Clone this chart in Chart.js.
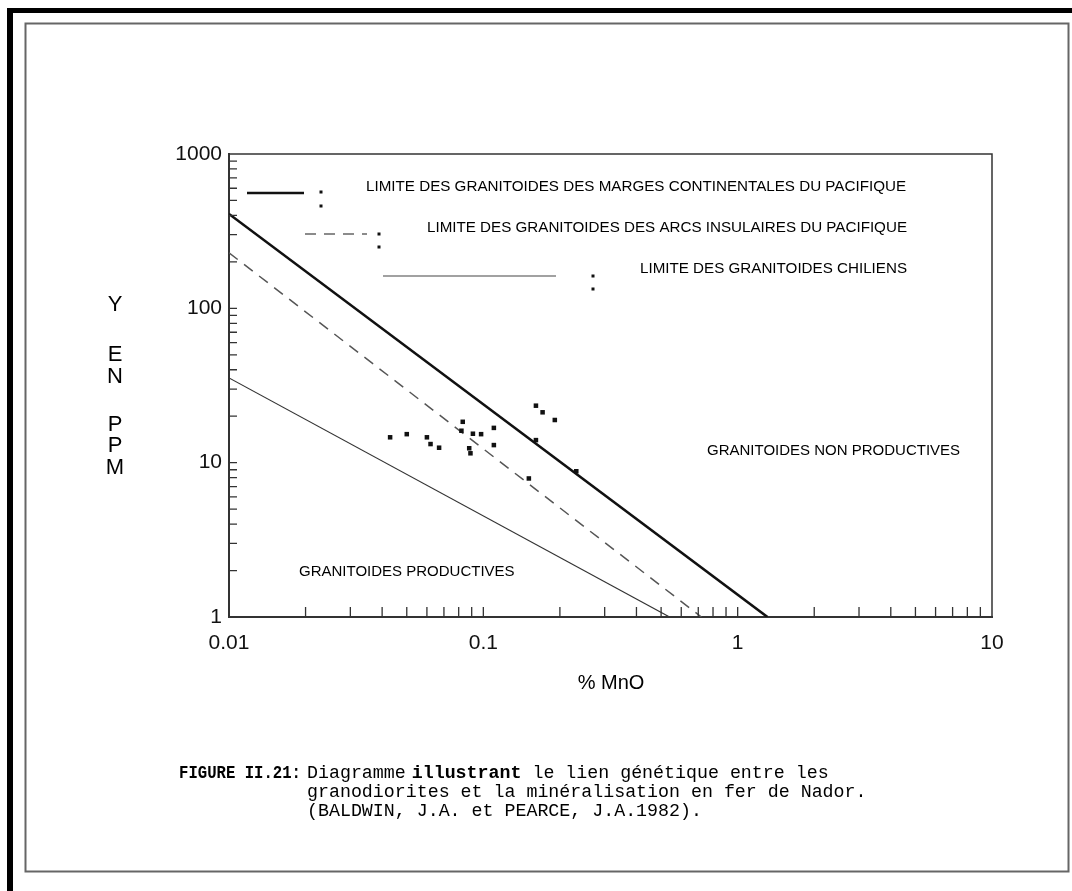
<!DOCTYPE html>
<html>
<head>
<meta charset="utf-8">
<script src="https://cdn.jsdelivr.net/npm/chart.js@4/dist/chart.umd.min.js"></script>
<style>
  html, body { margin: 0; padding: 0; background: #fff; }
  canvas { display: block; }
</style>
</head>
<body>
<canvas id="myChart" width="1072" height="891"></canvas>
<script>
// echantillons : % MnO et Y en ppm
var mnO  = [0.043, 0.050, 0.060, 0.062, 0.067, 0.083, 0.082, 0.091, 0.098, 0.088, 0.089, 0.110, 0.110, 0.161, 0.171, 0.191, 0.161, 0.151, 0.232];
var yPpm = [14.6, 15.3, 14.6, 13.2, 12.5, 18.4, 16.1, 15.4, 15.3, 12.4, 11.5, 16.8, 13.0, 23.4, 21.2, 18.9, 14.0, 7.9, 8.8];

// limites (droites log-log)
var contX  = [0.01, 1.31];  var contY  = [409, 1];    // marges continentales
var arcsX  = [0.01, 0.72];  var arcsY  = [229, 1];    // arcs insulaires
var chiliX = [0.01, 0.54];  var chiliY = [35.4, 1];   // chiliens

var xTicks = [0.01, 0.1, 1, 10];
var yTicks = [1, 10, 100, 1000];

var legendLabels = [
  "LIMITE DES GRANITOIDES DES MARGES CONTINENTALES DU PACIFIQUE",
  "LIMITE DES GRANITOIDES DES ARCS INSULAIRES DU PACIFIQUE",
  "LIMITE DES GRANITOIDES CHILIENS"
];

function pts(xs, ys) {
  var out = [];
  for (var i = 0; i < xs.length; i++) out.push({ x: xs[i], y: ys[i] });
  return out;
}

var SANS = '"Liberation Sans", Arial, Helvetica, sans-serif';
var MONO = '"Liberation Mono", "Courier New", monospace';

var decorPlugin = {
  id: 'decor',
  beforeDraw: function (chart) {
    var c = chart.ctx;
    c.save();
    c.fillStyle = '#ffffff';
    c.fillRect(0, 0, chart.width, chart.height);
    // cadre de la page scannee
    c.fillStyle = '#000';
    c.fillRect(7, 8, 1065, 5);
    c.fillRect(7, 8, 6, 883);
    c.strokeStyle = '#666';
    c.lineWidth = 2;
    c.strokeRect(25.5, 23.5, 1043, 848);
    c.restore();
  },
  afterDraw: function (chart) {
    var c = chart.ctx, a = chart.chartArea;
    var xs = chart.scales.x, ys = chart.scales.y;
    c.save();
    // top + right border of the plot box
    c.strokeStyle = '#333';
    c.lineWidth = 1.5;
    c.beginPath();
    c.moveTo(a.left, a.top); c.lineTo(a.right, a.top); c.lineTo(a.right, a.bottom);
    c.stroke();

    // inward ticks
    c.lineWidth = 1.3;
    c.beginPath();
    for (var i = 0; i < xTicks.length - 1; i++) {
      for (var k = 1; k <= 9; k++) {
        var px = xs.getPixelForValue(xTicks[i] * k);
        c.moveTo(px, a.bottom); c.lineTo(px, a.bottom - 10);
      }
    }
    for (var j = 0; j < yTicks.length - 1; j++) {
      for (var m = 1; m <= 9; m++) {
        var py = ys.getPixelForValue(yTicks[j] * m);
        c.moveTo(a.left, py); c.lineTo(a.left + 8, py);
      }
    }
    c.stroke();

    // legende dans le graphe
    c.strokeStyle = '#111';
    c.lineWidth = 2.5;
    c.beginPath(); c.moveTo(247, 193); c.lineTo(304, 193); c.stroke();
    c.strokeStyle = '#666';
    c.lineWidth = 1.5;
    c.setLineDash([11, 8]);
    c.beginPath(); c.moveTo(305, 234); c.lineTo(367, 234); c.stroke();
    c.setLineDash([]);
    c.strokeStyle = '#444';
    c.lineWidth = 1.2;
    c.beginPath(); c.moveTo(383, 276); c.lineTo(556, 276); c.stroke();

    c.fillStyle = '#111';
    [[321, 192], [321, 206], [379, 234], [379, 247], [593, 276], [593, 289]].forEach(function (d) {
      c.fillRect(d[0] - 1.5, d[1] - 1.5, 3, 3);
    });

    c.fillStyle = '#000';
    c.font = '15.2px ' + SANS;
    c.textBaseline = 'middle';
    c.textAlign = 'left';
    c.fillText(legendLabels[0], 366, 187, 541);
    c.fillText(legendLabels[1], 427, 228, 480);
    c.fillText(legendLabels[2], 640, 269, 267);

    c.font = '15px ' + SANS;
    c.fillText('GRANITOIDES NON PRODUCTIVES', 707, 451, 256);
    c.fillText('GRANITOIDES PRODUCTIVES', 299, 572, 216);

    // titres des axes
    c.font = '20px ' + SANS;
    c.textAlign = 'center';
    c.fillText('% MnO', 611, 683);
    c.font = '22px ' + SANS;
    [['Y', 305], ['E', 355], ['N', 377], ['P', 425], ['P', 446], ['M', 468]].forEach(function (l) {
      c.fillText(l[0], 115, l[1]);
    });

    // legende de la figure
    c.textAlign = 'left';
    c.textBaseline = 'alphabetic';
    c.font = 'bold 18px ' + MONO;
    c.fillText('FIGURE II.21:', 179, 778, 122);
    c.font = '18.3px ' + MONO;
    var x = 307;
    c.fillText('Diagramme', x, 778); x += c.measureText('Diagramme').width + 6;
    c.font = 'bold 18.3px ' + MONO;
    c.fillText('illustrant', x, 778); x += c.measureText('illustrant').width;
    c.font = '18.3px ' + MONO;
    c.fillText(' le lien génétique entre les', x, 778);
    c.fillText('granodiorites et la minéralisation en fer de Nador.', 307, 797);
    c.fillText('(BALDWIN, J.A. et PEARCE, J.A.1982).', 307, 816);
    c.restore();
  }
};

var ctx = document.getElementById('myChart');
var myChart = new Chart(ctx, {
  type: 'scatter',
  data: {
    datasets: [
      {
        label: 'echantillons',
        data: pts(mnO, yPpm),
        pointStyle: 'rect',
        pointRadius: 3.2,
        backgroundColor: '#111',
        borderWidth: 0
      },
      {
        type: 'line', label: legendLabels[0], data: pts(contX, contY),
        showLine: true, pointRadius: 0, borderColor: '#111', borderWidth: 2.6, fill: false
      },
      {
        type: 'line', label: legendLabels[1], data: pts(arcsX, arcsY),
        showLine: true, pointRadius: 0, borderColor: '#555', borderWidth: 1.5, borderDash: [11, 8], fill: false
      },
      {
        type: 'line', label: legendLabels[2], data: pts(chiliX, chiliY),
        showLine: true, pointRadius: 0, borderColor: '#333', borderWidth: 1.2, fill: false
      }
    ]
  },
  options: {
    responsive: false,
    animation: false,
    layout: { padding: { left: 0, top: 154, right: 80, bottom: 0 } },
    plugins: { legend: { display: false }, tooltip: { enabled: false } },
    scales: {
      x: {
        type: 'logarithmic',
        position: 'bottom',
        min: 0.01, max: 10,
        afterBuildTicks: function (s) { s.ticks = xTicks.map(function (v) { return { value: v }; }); },
        afterFit: function (s) { s.height = 274; },
        ticks: {
          autoSkip: false, maxRotation: 0, padding: 14, color: '#111',
          font: { family: SANS, size: 21 },
          callback: function (v) { return String(v); }
        },
        grid: { drawOnChartArea: false, drawTicks: false },
        border: { display: true, color: '#333', width: 2 }
      },
      y: {
        type: 'logarithmic',
        min: 1, max: 1000,
        afterBuildTicks: function (s) { s.ticks = yTicks.map(function (v) { return { value: v }; }); },
        afterFit: function (s) { s.width = 229; },
        ticks: {
          autoSkip: false, padding: 7, color: '#111',
          font: { family: SANS, size: 21 },
          callback: function (v) { return String(v); }
        },
        grid: { drawOnChartArea: false, drawTicks: false },
        border: { display: true, color: '#333', width: 2 }
      }
    }
  },
  plugins: [decorPlugin]
});
</script>
</body>
</html>
